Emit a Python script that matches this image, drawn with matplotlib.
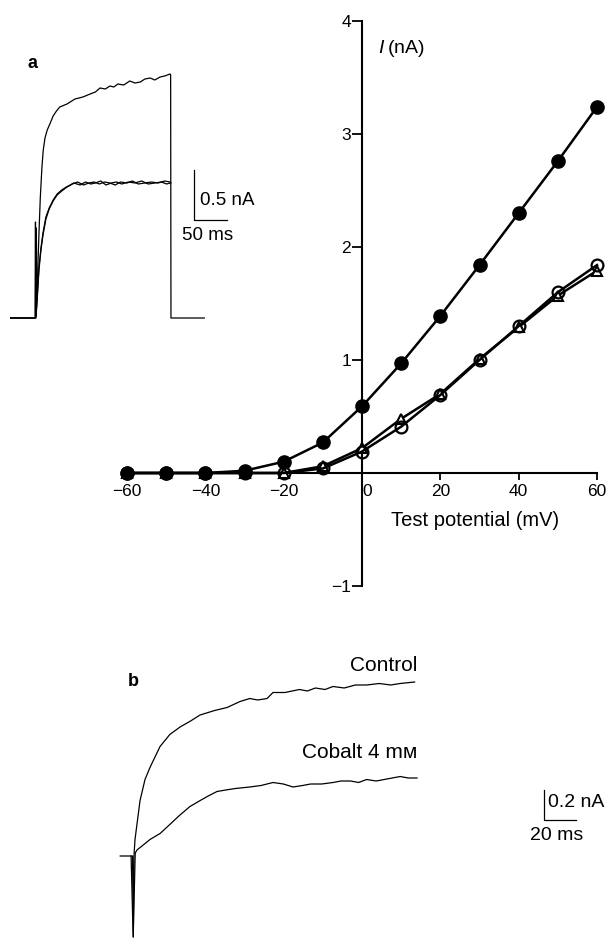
import matplotlib
matplotlib.use("Agg")
import matplotlib.pyplot as plt
import numpy as np

plt.rcParams['font.family'] = ['Liberation Sans', 'DejaVu Sans']
plt.rcParams['mathtext.fontset'] = 'custom'
plt.rcParams['mathtext.it'] = 'Liberation Sans:italic'
plt.rcParams['mathtext.rm'] = 'Liberation Sans'

# I-V relation (a)
volt = [-60, -50, -40, -30, -20, -10, 0, 10, 20, 30, 40, 50, 60]
i_control = [0.0, 0.0, 0.0, 0.02, 0.1, 0.27, 0.59, 0.97, 1.39, 1.84, 2.3, 2.76, 3.24]
i_cobalt = [0.0, 0.0, 0.0, 0.0, 0.0, 0.04, 0.19, 0.41, 0.69, 1.0, 1.3, 1.6, 1.84]
i_wash = [0.0, 0.0, 0.0, 0.0, 0.0, 0.06, 0.22, 0.48, 0.7, 1.01, 1.29, 1.57, 1.79]
xticks = [-60, -40, -20, 0, 20, 40, 60]
xticklabels = ['\u221260', '\u221240', '\u221220', '0', '20', '40', '60']
yticks = [-1, 1, 2, 3, 4]
yticklabels = ['\u22121', '1', '2', '3', '4']

# inset traces of (a): time (ms), current (nA)
ta_ctrl = [-40, -1, 0, 1.5, 3, 4.5, 6.5, 9, 11, 13.6, 17, 21, 26, 31, 36, 47, 59, 71, 82, 90, 97,
           105, 112, 118, 124, 133, 142, 150, 158, 165, 173, 180, 188, 195, 203, 204, 204.5, 255]
ia_ctrl = [0, 0, 0, 0.18, 0.55, 0.85, 1.2, 1.51, 1.68, 1.8, 1.88, 1.94, 2.02, 2.07, 2.11, 2.14,
           2.19, 2.21, 2.24, 2.26, 2.3, 2.29, 2.32, 2.31, 2.34, 2.33, 2.37, 2.35, 2.36, 2.39, 2.4,
           2.38, 2.41, 2.42, 2.44, 2.43, 0, 0]
ta_co = [-40, -1.5, -0.8, -0.2, 0.4, 1.5, 4.5, 7.5, 10.6, 15, 20, 26, 32, 39, 46, 52, 57, 67, 75,
         83, 90, 98, 106, 114, 122, 130, 140, 150, 160, 170, 180, 190, 198, 203, 204]
ia_co = [0, 0, 0.96, 0.02, 0.9, 0.18, 0.51, 0.7, 0.85, 1.01, 1.1, 1.18, 1.24, 1.28, 1.31, 1.33,
         1.35, 1.33, 1.36, 1.34, 1.35, 1.37, 1.33, 1.35, 1.36, 1.34, 1.36, 1.35, 1.37, 1.34,
         1.35, 1.36, 1.34, 1.35, 1.35]
ta_wash = [-40, -1, 0, 1.5, 4.5, 7.5, 10.6, 15, 20, 26, 32, 39, 47, 55, 63, 72, 80, 88, 96, 104,
           112, 120, 128, 138, 146, 155, 165, 175, 185, 195, 203, 204]
ia_wash = [0, 0, 0.02, 0.15, 0.48, 0.68, 0.83, 0.99, 1.09, 1.17, 1.23, 1.27, 1.31, 1.34, 1.36,
           1.33, 1.35, 1.36, 1.34, 1.36, 1.35, 1.33, 1.36, 1.35, 1.37, 1.34, 1.35, 1.36, 1.35,
           1.37, 1.36, 1.35]

# traces of (b)
tb_ctrl = [-8, -0.3, 0.2, 0.6, 1.25, 4.4, 7.5, 10.6, 16.9, 23, 29.4, 36, 41.9, 51, 58.8, 66.9,
           73, 78, 83.8, 87.5, 95, 104, 109, 114, 120, 125, 132, 139, 146, 154, 161, 167, 176]
ib_ctrl = [0, 0, -0.54, 0.0, 0.11, 0.37, 0.51, 0.59, 0.73, 0.81, 0.86, 0.9, 0.94, 0.97, 0.99, 1.03,
           1.05, 1.04, 1.05, 1.09, 1.09, 1.11, 1.1, 1.12, 1.11, 1.13, 1.12, 1.14, 1.14, 1.15, 1.14,
           1.15, 1.16]
tb_co = [-1.2, 0.1, 1.4, 2.5, 6, 10.6, 16.9, 21, 29, 35.6, 42, 47, 52.5, 58, 64, 73, 80, 87.5, 94,
         100, 106, 111, 118, 125, 130, 136, 141, 146, 152, 157, 162, 167, 172, 177.5]
ib_co = [0.0, -0.54, 0.02, 0.04, 0.07, 0.11, 0.15, 0.19, 0.27, 0.33, 0.37, 0.4, 0.43, 0.44, 0.45,
         0.46, 0.47, 0.49, 0.48, 0.46, 0.47, 0.48, 0.48, 0.49, 0.5, 0.5, 0.49, 0.51, 0.5, 0.51,
         0.52, 0.53, 0.52, 0.52]

W, H = 608, 938
fig = plt.figure(figsize=(W / 100, H / 100), dpi=100)


def px_axes(x0, y0, x1, y1):
    # axes from pixel box (top-left origin)
    return fig.add_axes([x0 / W, 1 - y1 / H, (x1 - x0) / W, (y1 - y0) / H])


# ---- I-V plot
ax = px_axes(127, 21, 597, 586)
ax.plot(volt, i_wash, '-', color='black', lw=1.8, marker='^', ms=7.5, mfc='white',
        mec='black', mew=1.5, clip_on=False, zorder=3)
ax.plot(volt, i_cobalt, '-', color='black', lw=1.8, marker='o', ms=8.5, mfc='none',
        mec='black', mew=1.6, clip_on=False, zorder=4)
ax.plot(volt, i_control, '-', color='black', lw=1.8, marker='o', ms=9.5, mfc='black',
        mec='black', clip_on=False, zorder=5)
ax.set_xlim(-60, 60)
ax.set_ylim(-1, 4)
for s in ['top', 'right']:
    ax.spines[s].set_visible(False)
ax.spines['left'].set_position(('data', 0))
ax.spines['bottom'].set_position(('data', 0))
ax.spines['left'].set_linewidth(1.5)
ax.spines['bottom'].set_linewidth(1.5)
ax.set_xticks(xticks)
ax.set_xticklabels(xticklabels, fontsize=12.5)
ax.set_yticks(yticks)
ax.set_yticklabels(yticklabels, fontsize=12.5)
ax.tick_params(axis='x', direction='out', length=5, width=1.3, pad=3)
ax.tick_params(axis='y', direction='out', length=7, width=1.3, pad=1)
lab0 = ax.get_xticklabels()[3]
lab0.set_ha('left')
ax.text(0.534, 0.952, r'$I$' + '\u2009(nA)', transform=ax.transAxes, fontsize=14, va='center')
ax.text(7.5, -0.42, 'Test potential (mV)', fontsize=14.5, ha='left', va='center')

# ---- inset traces (a)
axa = px_axes(10, 60, 234, 330)
axa.plot(ta_ctrl, ia_ctrl, color='black', lw=0.9)
axa.plot(ta_co, ia_co, color='black', lw=0.9)
axa.plot(ta_wash, ia_wash, color='black', lw=0.9)
axa.set_xlim((10 - 36) / 0.66, (234 - 36) / 0.66)
axa.set_ylim((318 - 330) / 100, (318 - 60) / 100)
axa.axis('off')
axa.plot([239, 239, 289], [1.48, 0.98, 0.98], color='black', lw=0.9)
axa.text(248, 1.18, '0.5 nA', fontsize=13.5, va='center')
axa.text(221, 0.83, '50 ms', fontsize=13.5, va='center')
fig.text(27 / W, 1 - 63 / H, 'a', fontsize=13, fontweight='bold', va='center')

# ---- traces (b)
axb = px_axes(110, 640, 600, 938)
axb.plot(tb_ctrl, ib_ctrl, color='black', lw=0.9)
axb.plot(tb_co, ib_co, color='black', lw=0.9)
axb.set_xlim((110 - 133) / 1.6, (600 - 133) / 1.6)
axb.set_ylim((856 - 938) / 150, (856 - 640) / 150)
axb.axis('off')
axb.plot([256.9, 256.9, 276.9], [0.44, 0.24, 0.24], color='black', lw=0.9)
axb.text(259.5, 0.36, '0.2 nA', fontsize=14, va='center', clip_on=False)
axb.text(248, 0.14, '20 ms', fontsize=14, va='center')
axb.text(178, 1.27, 'Control', fontsize=15, ha='right', va='center')
axb.text(178, 0.69, 'Cobalt 4 m\u1d0d', fontsize=15, ha='right', va='center')
fig.text(128 / W, 1 - 681 / H, 'b', fontsize=13, fontweight='bold', va='center')

fig.savefig('out.png', dpi=100)
